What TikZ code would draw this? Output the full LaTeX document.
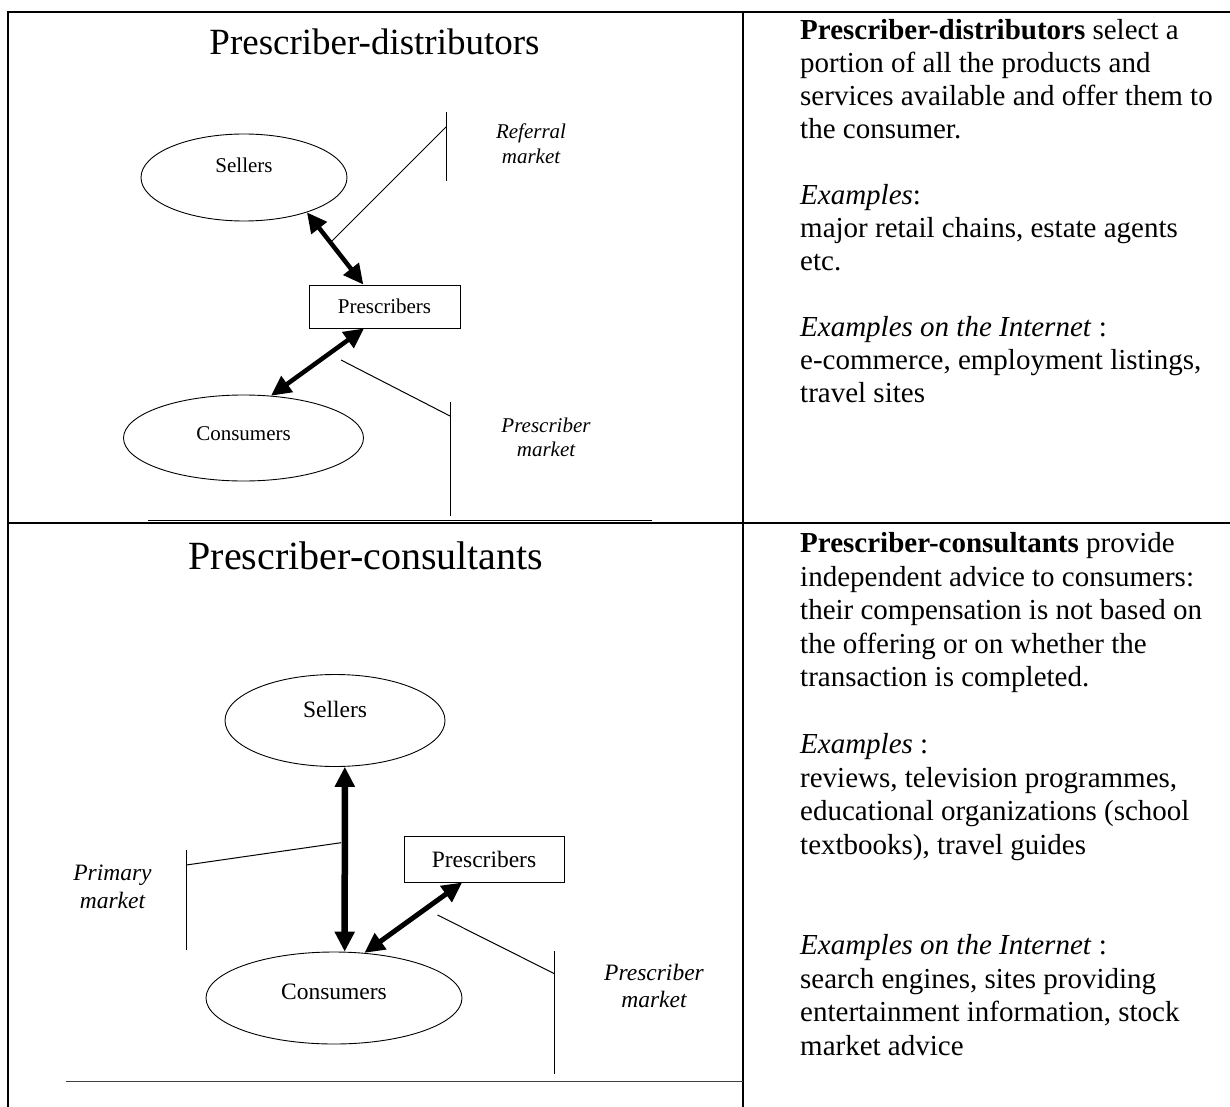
\documentclass[tikz,border=0pt]{standalone}
\usepackage{fontspec}
\setmainfont{Liberation Serif}
\usetikzlibrary{shapes.geometric,arrows.meta}

\begin{document}
\begin{tikzpicture}[x=1pt,y=-1pt,
		ell/.style={draw, ellipse, inner sep=0pt, line width=0.9pt},
		presbox/.style={draw, rectangle, inner sep=0pt, line width=0.9pt},
		dblarrow/.style={line width=#1, {Triangle[length=20pt,width=19pt]}-{Triangle[length=20pt,width=19pt]}},
		dblarrow/.default=4.5pt,
		bracket/.style={line width=1pt},
		mktlabel/.style={align=center, inner sep=0pt, anchor=base}]
		\useasboundingbox (0,0) rectangle (1230,1107);
		%Frame
		\draw[line width=2pt] (1230,12) -- (8,12) -- (8,1107);
		\draw[line width=2pt] (743,12) -- (743,1107);
		\draw[line width=2pt] (8,523) -- (1230,523);
		\draw[line width=1.5pt] (148,520.5) -- (652,520.5);
		\draw[line width=0.9pt, black!75] (66,1081.6) -- (743,1081.6);
		%Top diagram
		\node[inner sep=0pt, anchor=base, font=\fontsize{37}{44}\selectfont] (titleA) at (374.5,55) {Prescriber-distributors};
		\node[ell, minimum width=206pt, minimum height=87pt, font=\fontsize{21}{25}\selectfont, text height=14pt, text depth=23pt] (sellA) at (244,177.5) {Sellers};
		\node[presbox, minimum width=151pt, minimum height=43pt, font=\fontsize{21}{25}\selectfont] (presA) at (384.5,306.5) {Prescribers};
		\node[ell, minimum width=240pt, minimum height=86pt, font=\fontsize{21}{25}\selectfont, text height=14pt, text depth=10pt] (consA) at (243.5,438) {Consumers};
		\draw[dblarrow] (sellA.-29) -- (presA.134);
		\draw[dblarrow] (presA.-133) -- (consA.57);
		%market lines
		\draw[bracket] (332,241) -- (446,127);
		\draw[bracket] (446,112) -- (446,181);
		\draw[bracket] (341,360) -- (450,416);
		\draw[bracket] (450,402) -- (450,516);
		\node[mktlabel, font=\fontsize{21}{25}\selectfont\itshape] (refA) at (531,164) {Referral\\market};
		\node[mktlabel, font=\fontsize{21}{24}\selectfont\itshape] (prmA) at (546,456) {Prescriber\\market};
		%Bottom diagram
		\node[inner sep=0pt, anchor=base, font=\fontsize{40}{48}\selectfont] (titleB) at (366,569) {Prescriber-consultants};
		\node[ell, minimum width=220pt, minimum height=92pt, font=\fontsize{23.5}{28}\selectfont, text height=16pt, text depth=21.6pt] (sellB) at (335,720.5) {Sellers};
		\node[presbox, minimum width=160pt, minimum height=46pt, font=\fontsize{23.5}{28}\selectfont] (presB) at (484,859) {Prescribers};
		\node[ell, minimum width=256pt, minimum height=92pt, font=\fontsize{23.5}{28}\selectfont, text height=16pt, text depth=14pt] (consB) at (334,998) {Consumers};
		\draw[dblarrow=6.5pt] (sellB.-78) -- (consB.77);
		\draw[dblarrow=5pt] (presB.-133) -- (consB.56);
		%market lines
		\draw[bracket] (341,842.7) -- (186.4,865);
		\draw[bracket] (186.4,850) -- (186.4,949.5);
		\draw[bracket] (437.5,915) -- (554.6,973.8);
		\draw[bracket] (554.6,951.3) -- (554.6,1073.8);
		\node[mktlabel, font=\fontsize{23.5}{28}\selectfont\itshape] (primB) at (112.5,908.4) {Primary\\market};
		\node[mktlabel, font=\fontsize{23.5}{27}\selectfont\itshape] (prmB) at (654,1007.7) {Prescriber\\market};
		%Text
		\node[align=left, inner sep=0pt, anchor=base west, font=\fontsize{29}{33}\selectfont] (descA) at (800,402.5) {\textbf{Prescriber-distributors} select a\\
			portion of all the products and\\
			services available and offer them to\\
			the consumer.\\[33pt]
			\textit{Examples}:\\
			major retail chains, estate agents\\
			etc.\\[33pt]
			\textit{Examples on the Internet} :\\
			e-commerce, employment listings,\\
			travel sites};
		\node[align=left, inner sep=0pt, anchor=base west, font=\fontsize{29}{33.5}\selectfont] (descB) at (800,1055) {\textbf{Prescriber-consultants} provide\\
			independent advice to consumers:\\
			their compensation is not based on\\
			the offering or on whether the\\
			transaction is completed.\\[33.5pt]
			\textit{Examples} :\\
			reviews, television programmes,\\
			educational organizations (school\\
			textbooks), travel guides\\[67pt]
			\textit{Examples on the Internet} :\\
			search engines, sites providing\\
			entertainment information, stock\\
			market advice};
	\end{tikzpicture}
\end{document}
